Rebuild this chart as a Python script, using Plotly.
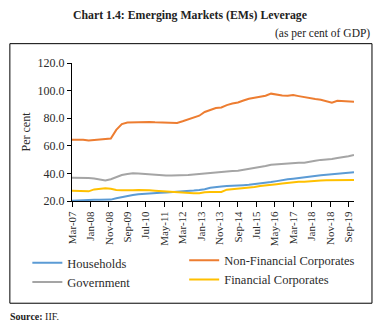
import pandas as pd
import plotly.graph_objects as go

# Quarterly dates Mar-07 .. Dec-19
dates = pd.date_range("2007-03-01", "2019-12-01", freq="3MS")

households = [20.2, 20.5, 20.7, 20.9, 20.9, 20.9, 20.9, 21.0, 22.0, 22.9, 23.7, 24.3,
              24.9, 25.3, 25.6, 25.8, 26.0, 26.1, 26.3, 26.5, 26.8, 27.2, 27.6, 28.0,
              28.5, 29.6, 30.2, 30.5, 30.8, 30.9, 31.2, 31.5, 31.8, 32.2, 32.6, 33.1,
              33.7, 34.4, 35.2, 35.7, 36.2, 36.8, 37.3, 37.7, 38.1, 38.7, 39.0, 39.3,
              39.6, 40.0, 40.4, 40.8]
non_fin_corp = [64.3, 64.6, 64.4, 63.8, 64.2, 64.6, 64.7, 65.3, 71.5, 75.7, 76.9, 77.0,
                77.2, 77.4, 77.2, 77.0, 76.8, 76.6, 76.4, 76.6, 77.8, 79.2, 80.5, 81.8,
                84.5, 86.2, 87.4, 87.8, 89.5, 90.6, 91.4, 92.8, 94.1, 94.8, 95.5, 96.3,
                97.8, 96.9, 96.5, 96.3, 96.8, 96.0, 95.2, 94.3, 93.9, 93.4, 92.5, 91.2,
                92.6, 92.3, 92.0, 91.9]
government = [36.9, 36.9, 36.8, 36.7, 36.3, 35.6, 34.8, 35.8, 37.5, 38.8, 39.6, 40.1,
              40.0, 39.6, 39.3, 39.0, 38.6, 38.4, 38.4, 38.4, 38.6, 38.9, 39.2, 39.4,
              39.6, 40.2, 40.6, 41.1, 41.4, 41.7, 42.0, 42.6, 43.3, 44.1, 44.6, 45.3,
              46.2, 46.6, 47.0, 47.4, 47.6, 47.7, 47.8, 48.2, 49.1, 49.8, 50.0, 50.5,
              51.1, 51.6, 52.4, 53.4]
fin_corp = [27.5, 27.4, 27.2, 27.0, 28.4, 28.8, 29.2, 28.8, 28.0, 27.8, 27.5, 27.7,
            27.9, 28.0, 27.8, 27.5, 27.2, 27.0, 26.7, 26.2, 26.0, 25.9, 25.7, 25.6,
            26.4, 26.5, 26.4, 26.6, 28.2, 28.6, 28.9, 29.1, 29.4, 30.1, 30.8, 31.4,
            31.7, 32.2, 32.6, 33.1, 33.7, 33.9, 34.0, 34.1, 34.4, 34.8, 35.0, 35.1,
            35.1, 35.2, 35.3, 35.3]

tick_dates = pd.date_range("2007-03-01", "2019-09-01", freq="10MS")
tick_labels = ["Mar-07", "Jan-08", "Nov-08", "Sep-09", "Jul-10", "May-11", "Mar-12",
               "Jan-13", "Nov-13", "Sep-14", "Jul-15", "May-16", "Mar-17", "Jan-18",
               "Nov-18", "Sep-19"]
y_ticks = [20, 40, 60, 80, 100, 120]

W, H = 383, 331
L, R, T, B = 71.7, 383 - 354, 63.3, 331 - 201
pw, ph = W - L - R, H - T - B

def px(x):
    return (x - L) / pw

def py(y):
    return (H - B - y) / ph

SERIF = "Liberation Serif"
TXT = "#2b2b2b"

fig = go.Figure()
series = [
    ("Households", households, "#5B9BD5", "legend"),
    ("Non-Financial Corporates", non_fin_corp, "#ED7D31", "legend2"),
    ("Government", government, "#A5A5A5", "legend"),
    ("Financial Corporates", fin_corp, "#FFC000", "legend2"),
]
for name, vals, col, lg in series:
    fig.add_trace(go.Scatter(x=dates, y=vals, mode="lines", name=name,
                             line=dict(color=col, width=2), legend=lg))

fig.update_layout(
    width=W, height=H,
    margin=dict(l=L, r=R, t=T, b=B, pad=0),
    paper_bgcolor="white", plot_bgcolor="white",
    font=dict(family=SERIF, size=11, color=TXT),
    showlegend=True,
    legend=dict(x=px(27), y=py(248), xanchor="left", yanchor="top",
                font=dict(size=12.5, family=SERIF, color=TXT),
                bgcolor="rgba(0,0,0,0)", tracegroupgap=0, itemwidth=30),
    legend2=dict(x=px(184), y=py(245.5), xanchor="left", yanchor="top",
                 font=dict(size=12.5, family=SERIF, color=TXT),
                 bgcolor="rgba(0,0,0,0)", tracegroupgap=0, itemwidth=30),
    xaxis=dict(type="date", range=[dates[0], dates[-1]],
               tickvals=tick_dates, ticktext=tick_labels, tickangle=-90,
               showgrid=False, showline=True, linecolor="black", linewidth=1,
               ticks="outside", ticklen=5, tickcolor="black",
               tickfont=dict(size=11, family=SERIF, color=TXT)),
    yaxis=dict(range=[20, 120], tickvals=y_ticks, tickformat=".1f",
               showgrid=False, showline=True, linecolor="black", linewidth=1,
               ticks="outside", ticklen=4, tickcolor="black", zeroline=False,
               tickfont=dict(size=12, family=SERIF, color=TXT),
               title=dict(text="Per cent", font=dict(size=12, family=SERIF, color=TXT),
                          standoff=4)),
)

# outer frame
fig.add_shape(type="rect", xref="paper", yref="paper",
              x0=px(9.5), x1=px(372), y0=py(303), y1=py(44),
              line=dict(color="black", width=1), fillcolor="rgba(0,0,0,0)")

fig.add_annotation(text="<b>Chart 1.4: Emerging Markets (EMs) Leverage</b>",
                   xref="paper", yref="paper", x=px(190), y=py(15),
                   xanchor="center", yanchor="middle", showarrow=False,
                   font=dict(size=11.8, family=SERIF, color="#222"))
fig.add_annotation(text="(as per cent of GDP)",
                   xref="paper", yref="paper", x=px(372), y=py(34),
                   xanchor="right", yanchor="middle", showarrow=False,
                   font=dict(size=11.5, family=SERIF, color="#222"))
fig.add_annotation(text="<b>Source:</b> IIF.",
                   xref="paper", yref="paper", x=px(8), y=py(316),
                   xanchor="left", yanchor="middle", showarrow=False,
                   font=dict(size=10, family=SERIF, color="#222"))

fig.write_html("out.html")
